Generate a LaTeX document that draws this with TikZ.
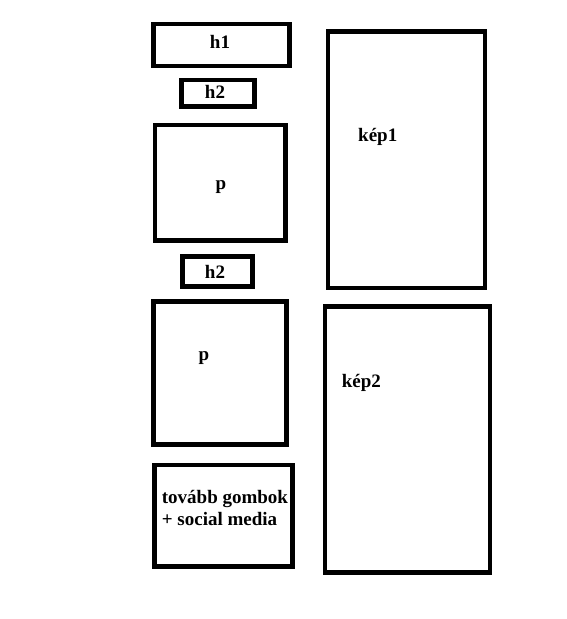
\documentclass[tikz,border=0pt]{standalone}
\usepackage{fontspec}
\setmainfont{Liberation Serif}
\begin{document}
\begin{tikzpicture}[x=1pt,y=-1pt,
  box/.style={draw=black,line width=4.5pt,rectangle,inner sep=0pt,fill=none},
  lbl/.style={inner sep=0pt,font=\fontsize{19}{23}\selectfont\bfseries}]
\useasboundingbox (0,0) rectangle (566,619);
\node[box,minimum width=136pt,minimum height=42pt] (h1) at (221.3,45) {};
\node[box,minimum width=73pt,minimum height=26.3pt] (h2a) at (217.8,93.2) {};
\node[box,minimum width=130.3pt,minimum height=115.7pt] (p1) at (220.2,182.8) {};
\node[box,minimum width=70.4pt,minimum height=30pt] (h2b) at (217.5,271.7) {};
\node[box,minimum width=157pt,minimum height=256.7pt] (kep1) at (406.5,159.7) {};
\node[box,minimum width=133.4pt,minimum height=143pt] (p2) at (220,372.8) {};
\node[box,minimum width=138.4pt,minimum height=101.7pt] (tov) at (223.5,515.8) {};
\node[box,minimum width=165pt,minimum height=266.4pt] (kep2) at (407.5,439.5) {};
\node[lbl,anchor=base] (th1) at (220,48.3) {h1};
\node[lbl,anchor=base] (th2a) at (215,98.3) {h2};
\node[lbl,anchor=base] (tp1) at (221,189.5) {p};
\node[lbl,anchor=base] (th2b) at (215,278.3) {h2};
\node[lbl,anchor=base west] (tk1) at (358,141.5) {kép1};
\node[lbl,anchor=base] (tp2) at (204,360) {p};
\node[lbl,anchor=base west] (tk2) at (341.7,387.3) {kép2};
\node[lbl,anchor=base west] (tt1) at (161.7,503.3) {tovább gombok};
\node[lbl,anchor=base west] (tt2) at (161.7,525.5) {+ social media};
\end{tikzpicture}
\end{document}
